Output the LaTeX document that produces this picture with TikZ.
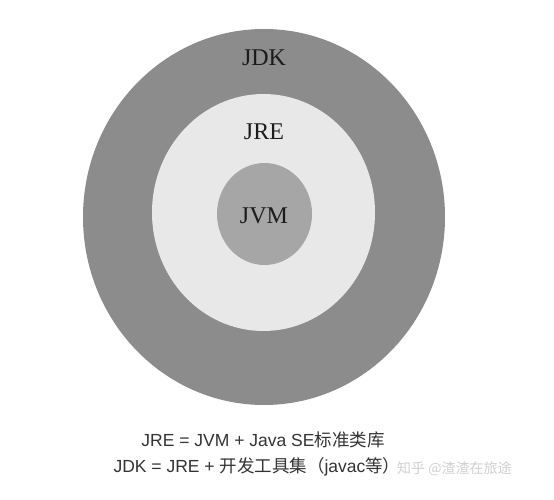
\documentclass[tikz,border=0pt]{standalone}
\usepackage{fontspec}
\newfontfamily\latinsans{Liberation Sans}
\newfontfamily\latinserif{Liberation Serif}
\newfontfamily\cjk{Noto Sans CJK SC}
\usetikzlibrary{shapes.geometric}
\definecolor{jdkgray}{HTML}{8C8C8C}
\definecolor{jregray}{HTML}{E8E8E8}
\definecolor{jvmgray}{HTML}{A6A6A6}
\definecolor{labeltext}{HTML}{1C1C1C}
\definecolor{captiontext}{HTML}{333333}
\definecolor{wmark}{HTML}{D0D0D0}
\tikzset{
  ring/.style={ellipse, draw=none, inner sep=0pt},
  ringlabel/.style={font=\latinserif\fontsize{24}{27}\selectfont, text=labeltext, inner sep=0pt},
  caption/.style={font=\fontsize{17.5}{20}\selectfont, text=captiontext, inner sep=0pt},
  watermark/.style={font=\cjk\fontsize{14}{16}\selectfont, text=wmark, inner sep=0pt}
}
\begin{document}
\begin{tikzpicture}[x=1pt,y=-1pt]
\useasboundingbox[fill=white] (0,0) rectangle (554,500);
\node[ring, fill=jdkgray, minimum width=362pt, minimum height=376pt] (jdk) at (264,217) {};
\node[ring, fill=jregray, minimum width=223pt, minimum height=237pt] (jre) at (263.5,212.5) {};
\node[ring, fill=jvmgray, minimum width=95pt, minimum height=102pt] (jvm) at (264.5,214) {};
\node[ringlabel] (jdkl) at (264,58) {JDK};
\node[ringlabel] (jrel) at (264,132) {JRE};
\node[ringlabel] (jvml) at (264,216) {JVM};
\node[caption] (cap1) at (263,440) {\latinsans JRE = JVM + Java SE\cjk 标准类库};
\node[caption] (cap2) at (257,467) {\latinsans JDK = JRE + \cjk 开发工具集（\latinsans javac\cjk 等）};
\node[watermark, anchor=west] (wm) at (397,469) {知乎 @渣渣在旅途};
\end{tikzpicture}
\end{document}
